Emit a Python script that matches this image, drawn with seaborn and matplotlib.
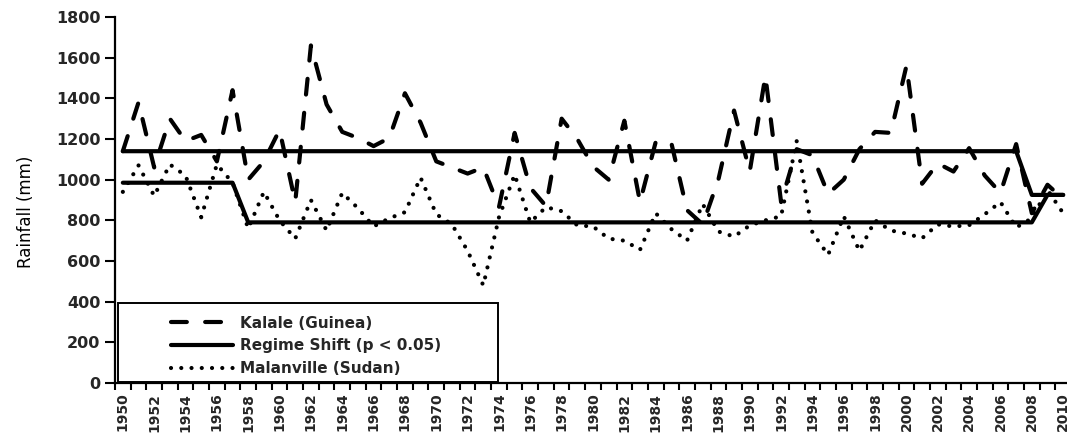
import numpy as np
import pandas as pd
import matplotlib
matplotlib.use('Agg')
import matplotlib.pyplot as plt
from matplotlib.patches import Rectangle
import seaborn as sns

years = list(range(1950, 2011))

kalale = [1140, 1380, 1060, 1300, 1190, 1220, 1090, 1440, 1000, 1090,
          1245, 890, 1660, 1370, 1235, 1205, 1165, 1205, 1425, 1280,
          1090, 1060, 1030, 1060, 865, 1230, 960, 870, 1300, 1200,
          1065, 1000, 1290, 890, 1185, 1180, 850, 780, 1000, 1340,
          1040, 1510, 890, 1150, 1120, 930, 1000, 1150, 1235, 1230,
          1560, 980, 1080, 1040, 1155, 1020, 935, 1175, 835, 975,
          905]

malanville = [940, 1070, 920, 1075, 1020, 815, 1075, 985, 760, 940,
              800, 710, 900, 750, 935, 860, 770, 810, 840, 1010,
              830, 780, 650, 480, 815, 1025, 790, 865, 845, 775,
              770, 710, 700, 655, 835, 757, 700, 880, 745, 720,
              775, 800, 820, 1190, 740, 630, 820, 650, 800, 750,
              735, 712, 780, 770, 776, 830, 890, 765, 810, 950,
              835]

# regime means (step functions)
kalale_shift = [1140] * 58 + [925] * 3                  # 1950-2007, 2008-2010
malanville_shift = [985] * 8 + [790] * 51 + [925] * 2   # 1950-1957, 1958-2008, 2009-2010

df = pd.DataFrame({'Year': years, 'Kalale': kalale, 'Malanville': malanville,
                   'ShiftK': kalale_shift, 'ShiftM': malanville_shift})

sns.set_theme(style='white')
plt.rcParams['font.family'] = ['DejaVu Sans']

fig = plt.figure(figsize=(10.67, 4.38), dpi=100)
ax = fig.add_axes([115/1067, 1 - 383/438, 956/1067, 366/438])

sns.lineplot(x='Year', y='Kalale', data=df, ax=ax, color='black', lw=3.0,
             label='Kalale (Guinea)')
ax.lines[-1].set_dashes((3.8, 4.4))
ax.lines[-1].set_dash_capstyle('round')
sns.lineplot(x='Year', y='ShiftK', data=df, ax=ax, color='black', lw=3.0,
             label='Regime Shift (p < 0.05)')
sns.lineplot(x='Year', y='ShiftM', data=df, ax=ax, color='black', lw=3.0)
sns.lineplot(x='Year', y='Malanville', data=df, ax=ax, color='black', lw=3.0,
             label='Malanville (Sudan)')
ax.lines[-1].set_dashes((0.01, 2.45))
ax.lines[-1].set_dash_capstyle('round')

ax.set_xlim(1949.5, 2010.5)
ax.set_ylim(0, 1800)
ax.set_yticks(range(0, 1801, 200))
ax.set_xticks(years[::2])
ax.set_xticks(np.arange(1949.5, 2011, 1), minor=True)
ax.set_xticklabels([str(y) for y in years[::2]], rotation=90, fontweight='bold', fontsize=10)
ax.set_yticklabels([str(v) for v in range(0, 1801, 200)], fontweight='bold', fontsize=11.5)
ax.tick_params(axis='x', which='major', length=0, pad=7)
ax.tick_params(axis='x', which='minor', length=5, width=1.5, bottom=True, direction='out', color='black')
ax.tick_params(axis='y', length=7, width=1.5, left=True, direction='out', color='black')

for s in ['top', 'right']:
    ax.spines[s].set_visible(False)
for s in ['left', 'bottom']:
    ax.spines[s].set_color('black')
    ax.spines[s].set_linewidth(1.6)

ax.set_xlabel('')
ax.set_ylabel('Rainfall (mm)', fontsize=12, color='black')
ax.yaxis.set_label_coords(-0.084, 0.467)

ax.add_patch(Rectangle((0.003, 0.003), 0.3975, 0.2156, transform=ax.transAxes,
                       facecolor='white', edgecolor='black', lw=1.4, zorder=4))
leg = ax.legend(loc='upper left', bbox_to_anchor=(0.0502, 0.205), frameon=False,
                borderpad=0, handlelength=4.05, handletextpad=0.5, labelspacing=0.5,
                prop={'weight': 'bold', 'size': 11})
leg.set_zorder(5)

fig.savefig('out.png', dpi=100)
